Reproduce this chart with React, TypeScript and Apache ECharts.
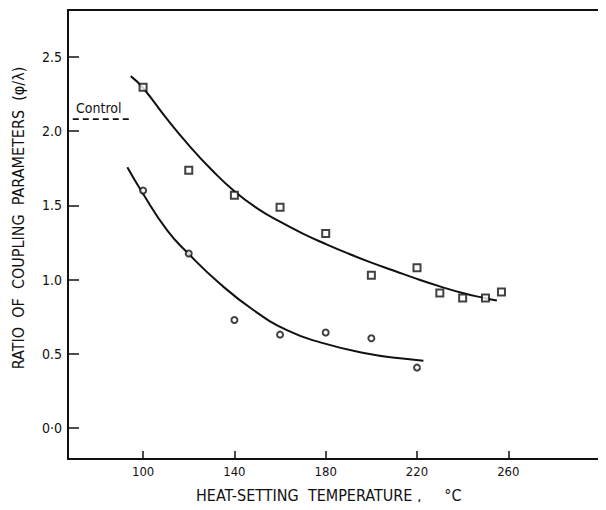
import React, { useEffect, useRef } from "react";
import * as echarts from "echarts";

const xTickValues = [100, 140, 180, 220, 260];
const yTickValues = [0, 0.5, 1.0, 1.5, 2.0, 2.5];

const squareX = [100, 120, 140, 160, 180, 200, 220, 230, 240, 250, 257];
const squareY = [2.295, 1.736, 1.568, 1.487, 1.31, 1.03, 1.081, 0.91, 0.877, 0.877, 0.917];

const circleX = [100, 120, 140, 160, 180, 200, 220];
const circleY = [1.6, 1.176, 0.729, 0.63, 0.644, 0.606, 0.408];

const upperCurveX = [94.6, 100, 110, 120, 130, 140, 150, 160, 170, 180, 190, 200, 210, 220, 230, 240, 250, 255];
const upperCurveY = [2.37, 2.29, 2.09, 1.905, 1.74, 1.595, 1.48, 1.39, 1.31, 1.24, 1.175, 1.115, 1.06, 1.005, 0.955, 0.91, 0.875, 0.86];

const lowerCurveX = [93.1, 99.1, 110.4, 119.8, 133.7, 148.3, 163, 177.6, 198, 212.6, 222.8];
const lowerCurveY = [1.756, 1.6, 1.335, 1.176, 0.972, 0.796, 0.66, 0.578, 0.503, 0.471, 0.455];

const controlX = [69.2, 94.9];
const controlValue = 2.081;

const FONT = "'DejaVu Sans Condensed', 'DejaVu Sans', sans-serif";
const INK = "#111";

export default function App() {
  const ref = useRef<HTMLDivElement>(null);
  useEffect(() => {
    if (!ref.current) return;
    const chart = echarts.init(ref.current, null, { renderer: "svg" });
    const zip = (xs: number[], ys: number[]) => xs.map((x, i) => [x, ys[i]]);
    chart.setOption({
      animation: false,
      backgroundColor: "#fff",
      grid: { left: 68, top: 10, right: 0, bottom: 51, containLabel: false },
      xAxis: [
        {
          type: "value",
          min: 67.1,
          max: 302.8,
          position: "bottom",
          splitLine: { show: false },
          axisLine: { show: true, onZero: false, lineStyle: { color: INK, width: 2 } },
          axisTick: {
            show: true,
            inside: true,
            length: 8,
            customValues: xTickValues,
            lineStyle: { color: INK, width: 1.5 },
          },
          axisLabel: {
            customValues: xTickValues,
            margin: 6,
            color: INK,
            fontFamily: FONT,
            fontSize: 13,
          },
        },
        {
          type: "value",
          min: 67.1,
          max: 302.8,
          position: "top",
          splitLine: { show: false },
          axisLine: { show: true, onZero: false, lineStyle: { color: INK, width: 2 } },
          axisTick: { show: false },
          axisLabel: { show: false },
        },
      ],
      yAxis: {
        type: "value",
        min: -0.207,
        max: 2.815,
        splitLine: { show: false },
        axisLine: { show: true, onZero: false, lineStyle: { color: INK, width: 2 } },
        axisTick: {
          show: true,
          inside: true,
          length: 11,
          customValues: yTickValues,
          lineStyle: { color: INK, width: 1.5 },
        },
        axisLabel: {
          customValues: yTickValues,
          margin: 6,
          color: INK,
          fontFamily: FONT,
          fontSize: 14,
          formatter: (v: number) => (v === 0 ? "0·0" : v.toFixed(1)),
        },
      },
      graphic: [
        {
          type: "text",
          x: 76,
          y: 108,
          style: {
            text: "Control",
            fill: INK,
            font: `14px ${FONT}`,
            verticalAlign: "middle",
            align: "left",
          },
        },
        {
          type: "text",
          x: 196,
          y: 495,
          style: {
            text: "HEAT-SETTING  TEMPERATURE ,     °C",
            fill: INK,
            font: `16px ${FONT}`,
            verticalAlign: "middle",
            align: "left",
          },
        },
        {
          type: "text",
          x: 18,
          y: 218,
          rotation: Math.PI / 2,
          style: {
            text: "RATIO  OF  COUPLING  PARAMETERS  (φ/λ)",
            fill: INK,
            font: `16px ${FONT}`,
            verticalAlign: "middle",
            align: "center",
          },
        },
      ],
      series: [
        {
          type: "line",
          data: zip(upperCurveX, upperCurveY),
          smooth: 0.5,
          showSymbol: false,
          lineStyle: { color: INK, width: 2 },
          z: 2,
        },
        {
          type: "line",
          data: zip(lowerCurveX, lowerCurveY),
          smooth: 0.5,
          showSymbol: false,
          lineStyle: { color: INK, width: 2 },
          z: 2,
        },
        {
          type: "line",
          data: controlX.map((x) => [x, controlValue]),
          showSymbol: false,
          lineStyle: { color: INK, width: 1.8, type: [6, 4] },
          z: 2,
        },
        {
          type: "scatter",
          data: zip(squareX, squareY),
          symbol: "rect",
          symbolSize: 7,
          itemStyle: { color: "#fff", borderColor: INK, borderWidth: 2 },
          z: 3,
        },
        {
          type: "scatter",
          data: zip(circleX, circleY),
          symbol: "circle",
          symbolSize: 6,
          itemStyle: { color: "#fff", borderColor: INK, borderWidth: 2 },
          z: 3,
        },
      ],
    });
    return () => chart.dispose();
  }, []);
  return <div ref={ref} style={{ width: 606, height: 510, margin: -8 }} />;
}
